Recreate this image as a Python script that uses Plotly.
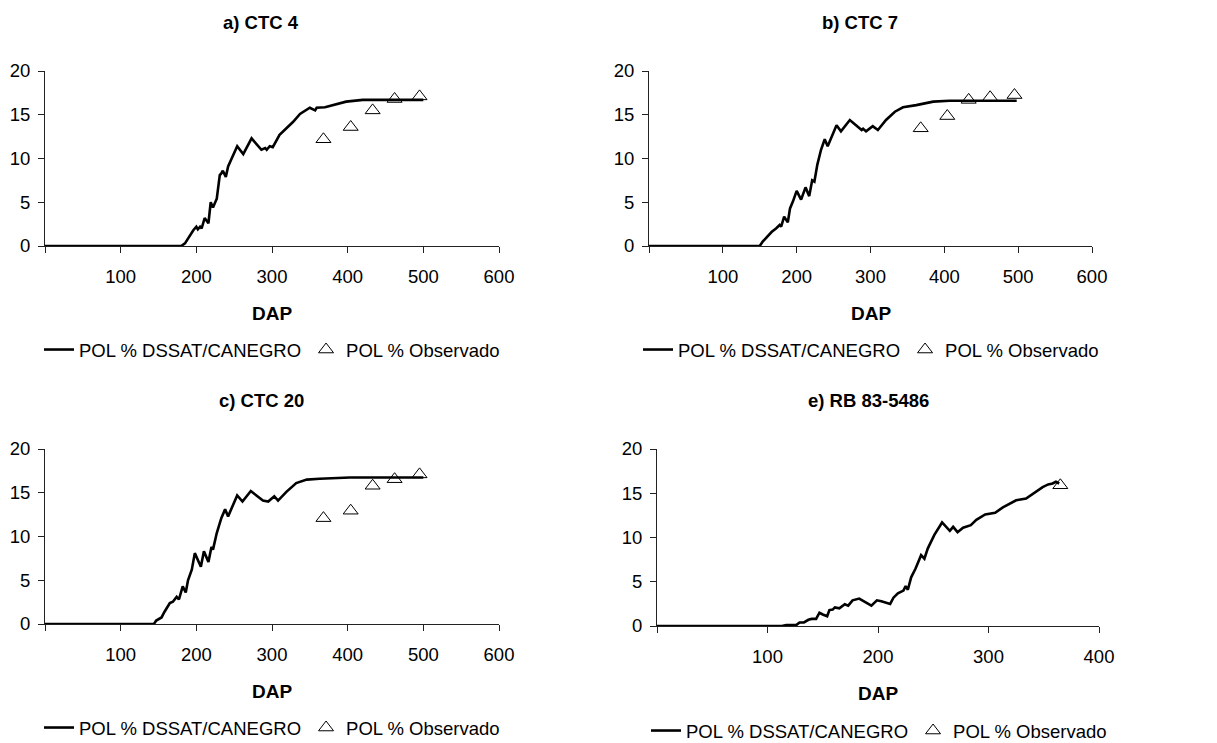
import plotly.graph_objects as go

# ---------------- data ----------------
obs_dap = [368, 404, 433, 462, 495]

a_sim_x = [0, 180, 185, 189, 196, 200, 202, 205, 207, 211, 216, 219, 222, 227, 231, 233, 235, 239, 242,
           254, 262, 273, 286, 291, 293, 297, 301, 310, 319, 328, 337, 350, 357, 359, 370, 381, 398, 420, 500]
a_sim_y = [0, 0, 0.3, 0.9, 1.8, 2.2, 1.9, 2.2, 2.0, 3.2, 2.6, 5.0, 4.4, 5.4, 8.1, 8.3, 8.6, 7.9, 9.1,
           11.4, 10.5, 12.3, 11.0, 11.2, 11.0, 11.4, 11.3, 12.7, 13.4, 14.2, 15.1, 15.8, 15.5, 15.8, 15.85, 16.1, 16.5, 16.7, 16.7]
a_obs_y = [12.2, 13.6, 15.5, 16.8, 17.1]

b_sim_x = [0, 150, 154, 159, 166, 172, 177, 179, 183, 188, 191, 195, 200, 206, 212, 217, 221, 224, 228,
           233, 238, 242, 254, 260, 272, 288, 290, 294, 303, 310, 321, 333, 344, 362, 385, 407, 498]
b_sim_y = [0, 0, 0.5, 1.0, 1.6, 2.0, 2.4, 2.2, 3.35, 2.7, 4.3, 5.1, 6.3, 5.3, 6.7, 5.7, 7.5, 7.35, 9.3,
           11.0, 12.2, 11.4, 13.8, 13.1, 14.4, 13.25, 13.4, 13.1, 13.7, 13.25, 14.4, 15.35, 15.85, 16.1, 16.5, 16.6, 16.6]
b_obs_y = [13.45, 14.85, 16.7, 17.0, 17.25]

c_sim_x = [0, 144, 147, 154, 158, 165, 169, 174, 177, 182, 186, 189, 194, 198, 206, 210, 216, 220, 222,
           227, 233, 238, 242, 254, 261, 272, 288, 295, 303, 308, 319, 332, 346, 363, 403, 500]
c_sim_y = [0, 0, 0.4, 0.75, 1.4, 2.4, 2.55, 3.1, 2.8, 4.3, 3.6, 5.0, 6.2, 8.1, 6.55, 8.3, 7.1, 8.8, 8.5,
           10.4, 12.1, 13.1, 12.3, 14.7, 14.0, 15.2, 14.1, 14.0, 14.6, 14.1, 15.1, 16.1, 16.5, 16.6, 16.75, 16.75]
c_obs_y = [12.1, 12.95, 15.8, 16.55, 17.1]

e_sim_x = [0, 113, 117, 126, 129, 133, 137, 140, 144, 147, 150, 154, 156, 159, 161, 165, 170, 173, 177,
           183, 194, 199, 203, 211, 214, 218, 223, 225, 227, 230, 234, 239, 242, 245, 251, 258, 265, 268,
           272, 277, 284, 289, 297, 306, 313, 325, 334, 340, 349, 354, 358, 361, 364]
e_sim_y = [0, 0, 0.1, 0.1, 0.4, 0.4, 0.7, 0.8, 0.8, 1.5, 1.3, 1.1, 1.8, 1.85, 2.1, 2.0, 2.45, 2.3, 2.9,
           3.1, 2.3, 2.9, 2.8, 2.5, 3.2, 3.7, 4.0, 4.5, 4.1, 5.5, 6.5, 8.0, 7.6, 8.75, 10.3, 11.7, 10.75, 11.2,
           10.6, 11.1, 11.4, 12.0, 12.6, 12.8, 13.4, 14.2, 14.4, 14.9, 15.7, 16.0, 16.1, 16.3, 16.1]
e_obs_x = [365]
e_obs_y = [15.9]

titles = ["a) CTC 4", "b) CTC 7", "c) CTC 20", "e) RB 83-5486"]
sim_name = "POL % DSSAT/CANEGRO"
obs_name = "POL % Observado"
x_label = "DAP"
y_ticks = [0, 5, 10, 15, 20]
x_ticks_600 = [0, 100, 200, 300, 400, 500, 600]
x_ticks_400 = [0, 100, 200, 300, 400]

# ---------------- layout helpers ----------------
W, H = 1217, 743
FONT = "Arial, 'Liberation Sans', sans-serif"


def px_x(p):
    return p / W


def px_y(p):
    return 1 - p / H


panels = [
    # (sim_x, sim_y, obs_x, obs_y, xticks, xmax, x0px, x1px, ytop_px, ybot_px, title_x, title_y, lab_x, lab_y, leg_x, leg_y)
    (a_sim_x, a_sim_y, obs_dap, a_obs_y, x_ticks_600, 600, 45, 499, 71, 246, 261, 22, 272, 313, 272, 350),
    (b_sim_x, b_sim_y, obs_dap, b_obs_y, x_ticks_600, 600, 649, 1092, 71, 246, 860, 22, 871, 313, 871, 350),
    (c_sim_x, c_sim_y, obs_dap, c_obs_y, x_ticks_600, 600, 45, 499, 449, 624, 261, 400, 272, 691, 272, 728),
    (e_sim_x, e_sim_y, e_obs_x, e_obs_y, x_ticks_400, 400, 657, 1099, 449, 626, 868, 400, 878, 693, 879, 731),
]

fig = go.Figure()
annotations = []
layout_extra = {}

for i, (sx, sy, ox, oy, xt, xmax, x0, x1, yt, yb, tx, ty, lx, ly, gx, gy) in enumerate(panels):
    n = "" if i == 0 else str(i + 1)
    leg = "legend" + n
    fig.add_trace(go.Scatter(x=sx, y=sy, mode="lines", name=sim_name,
                             line=dict(color="black", width=2.6),
                             xaxis="x" + n, yaxis="y" + n, legend=leg))
    fig.add_trace(go.Scatter(x=ox, y=oy, mode="markers", name=obs_name,
                             marker=dict(symbol="triangle-up-open", size=13, color="black",
                                         line=dict(width=1, color="black")),
                             xaxis="x" + n, yaxis="y" + n, legend=leg))
    layout_extra["xaxis" + n] = dict(
        domain=[px_x(x0), px_x(x1)], range=[0, xmax], anchor="y" + n,
        tickvals=xt, ticktext=["" if v == 0 else str(v) for v in xt],
        ticks="outside", ticklen=6, tickcolor="#222", showline=True, linecolor="#222", linewidth=1,
        ticklabelstandoff=8, automargin=False,
        showgrid=False, zeroline=False, tickfont=dict(size=18.5, color="black", family=FONT),
    )
    layout_extra["yaxis" + n] = dict(
        domain=[px_y(yb), px_y(yt)], range=[0, 20], anchor="x" + n,
        tickvals=y_ticks, ticks="outside", ticklen=6, tickcolor="#222", showline=True,
        linecolor="#222", linewidth=1, showgrid=False, zeroline=False, ticklabelstandoff=4,
        automargin=False,
        tickfont=dict(size=18.5, color="black", family=FONT),
    )
    layout_extra[leg] = dict(
        orientation="h", x=px_x(gx), y=px_y(gy), xanchor="center", yanchor="middle",
        font=dict(size=18.5, color="black", family=FONT), bgcolor="rgba(0,0,0,0)",
        itemwidth=30, tracegroupgap=0,
    )
    annotations.append(dict(text="<b>%s</b>" % titles[i], x=px_x(tx), y=px_y(ty), xref="paper", yref="paper",
                            xanchor="center", yanchor="middle", showarrow=False,
                            font=dict(size=18.5, color="black", family=FONT)))
    annotations.append(dict(text="<b>%s</b>" % x_label, x=px_x(lx), y=px_y(ly), xref="paper", yref="paper",
                            xanchor="center", yanchor="middle", showarrow=False,
                            font=dict(size=19, color="black", family=FONT)))

fig.update_layout(
    width=W, height=H, margin=dict(l=0, r=0, t=0, b=0, autoexpand=False),
    paper_bgcolor="white", plot_bgcolor="white",
    font=dict(family=FONT, color="black"),
    annotations=annotations,
    **layout_extra,
)

fig.write_html("out.html")
